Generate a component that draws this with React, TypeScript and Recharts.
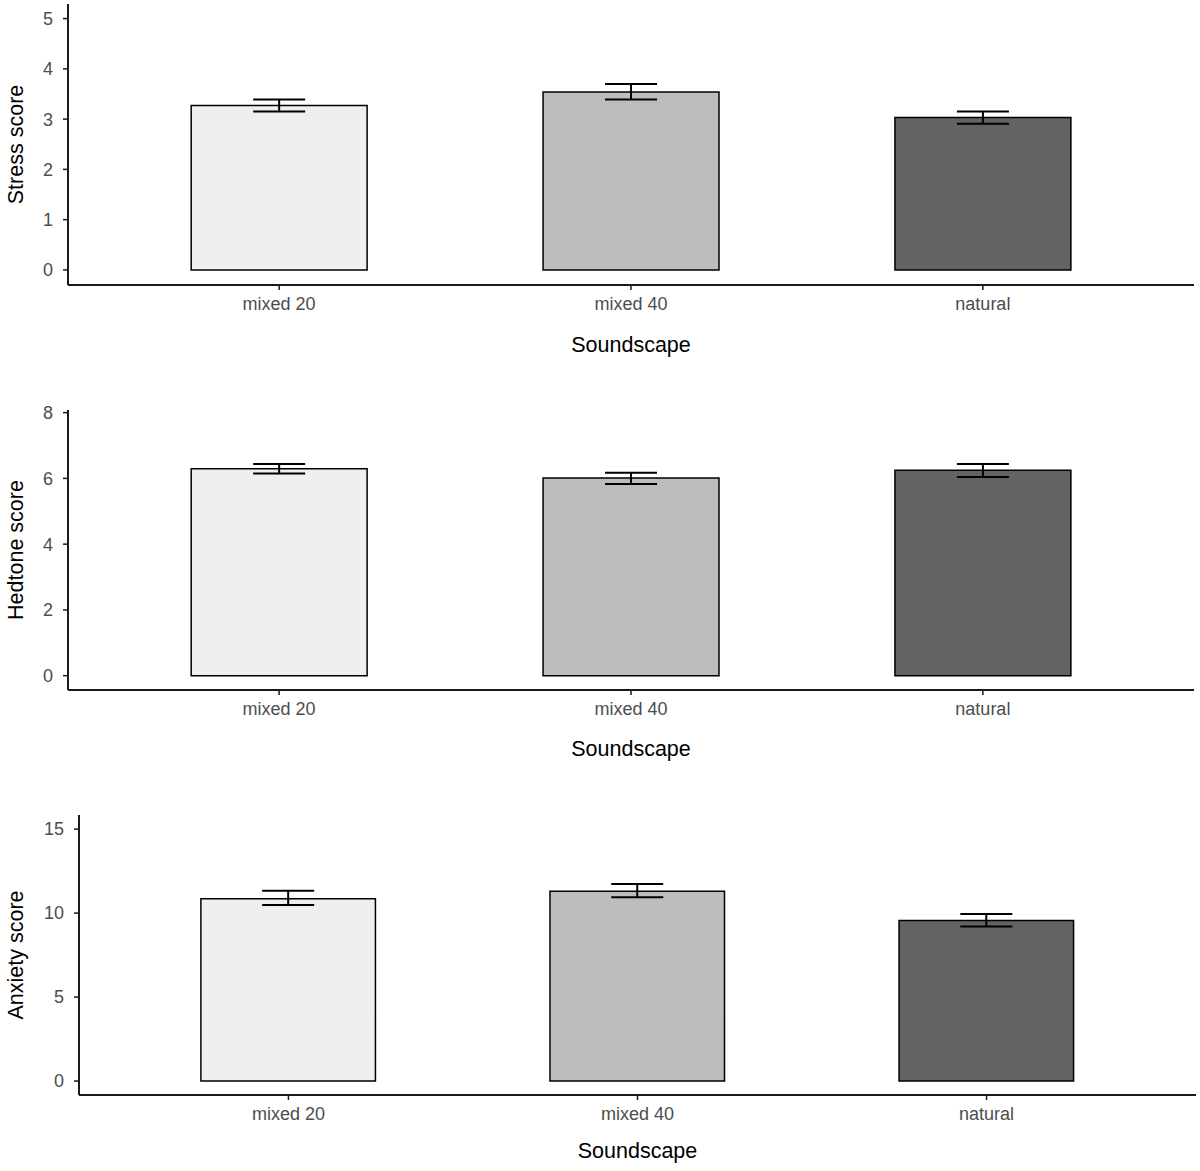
import React from "react";
import { BarChart, Bar, XAxis, YAxis, ErrorBar, Cell } from "recharts";

const soundscapes = ["mixed 20", "mixed 40", "natural"];
const barColors = ["#efefef", "#bdbdbd", "#636363"];

// mean and error bar ends, one value per soundscape
const stressMean = [3.27, 3.54, 3.03];
const stressLow = [3.15, 3.39, 2.91];
const stressHigh = [3.39, 3.7, 3.15];
const stressTicks = [0, 1, 2, 3, 4, 5];

const hedtoneMean = [6.29, 6.01, 6.25];
const hedtoneLow = [6.15, 5.83, 6.04];
const hedtoneHigh = [6.44, 6.17, 6.44];
const hedtoneTicks = [0, 2, 4, 6, 8];

const anxietyMean = [10.85, 11.3, 9.56];
const anxietyLow = [10.48, 10.95, 9.2];
const anxietyHigh = [11.33, 11.73, 9.94];
const anxietyTicks = [0, 5, 10, 15];

const buildRows = (mean: number[], low: number[], high: number[]) =>
  soundscapes.map((name, i) => ({
    name,
    mean: mean[i],
    err: [mean[i] - low[i], high[i] - mean[i]],
  }));

const panels = [
  {
    title: "Stress score",
    rows: buildRows(stressMean, stressLow, stressHigh),
    ticks: stressTicks,
    domain: [-0.3, 5.29],
    height: 406,
    top: 4,
    plotHeight: 281,
    yAxisWidth: 68,
    right: 6,
    titleOffset: 3,
  },
  {
    title: "Hedtone score",
    rows: buildRows(hedtoneMean, hedtoneLow, hedtoneHigh),
    ticks: hedtoneTicks,
    domain: [-0.435, 8.08],
    height: 406,
    top: 4,
    plotHeight: 280,
    yAxisWidth: 68,
    right: 6,
    titleOffset: 4,
  },
  {
    title: "Anxiety score",
    rows: buildRows(anxietyMean, anxietyLow, anxietyHigh),
    ticks: anxietyTicks,
    domain: [-0.83, 15.84],
    height: 359,
    top: 3,
    plotHeight: 280,
    yAxisWidth: 79,
    right: 4,
    titleOffset: 7,
  },
];

const X_AXIS_HEIGHT = 70;

const ScorePanel = ({ panel }: { panel: (typeof panels)[number] }) => {
  const plotWidth = 1200 - panel.yAxisWidth - panel.right;
  const unit = plotWidth / 3.2; // ggplot discrete expansion of 0.6 on each side
  const pad = unit * 0.1;
  return (
    <BarChart
      width={1200}
      height={panel.height}
      data={panel.rows}
      margin={{
        top: panel.top,
        right: panel.right,
        left: 0,
        bottom: panel.height - panel.top - panel.plotHeight - X_AXIS_HEIGHT,
      }}
    >
      <XAxis
        dataKey="name"
        interval={0}
        height={X_AXIS_HEIGHT}
        padding={{ left: pad, right: pad }}
        axisLine={{ stroke: "#1a1a1a", strokeWidth: 2 }}
        tickLine={{ stroke: "#1a1a1a", strokeWidth: 1.5 }}
        tickSize={5}
        tickMargin={7}
        tick={{ fill: "#4d4d4d", fontSize: 18 }}
        label={{
          value: "Soundscape",
          position: "insideBottom",
          offset: panel.titleOffset,
          fill: "#000",
          fontSize: 21.5,
        }}
      />
      <YAxis
        type="number"
        width={panel.yAxisWidth}
        domain={panel.domain}
        allowDataOverflow
        ticks={panel.ticks}
        interval={0}
        axisLine={{ stroke: "#1a1a1a", strokeWidth: 2 }}
        tickLine={{ stroke: "#1a1a1a", strokeWidth: 1.5 }}
        tickSize={5}
        tickMargin={10}
        tick={{ fill: "#4d4d4d", fontSize: 18 }}
        label={{
          value: panel.title,
          angle: -90,
          position: "insideLeft",
          offset: 15,
          fill: "#000",
          fontSize: 21.5,
          style: { textAnchor: "middle" },
        }}
      />
      <Bar
        dataKey="mean"
        barSize={unit / 2}
        stroke="#000"
        strokeWidth={1.5}
        isAnimationActive={false}
      >
        {panel.rows.map((r, i) => (
          <Cell key={r.name} fill={barColors[i]} />
        ))}
        <ErrorBar
          dataKey="err"
          width={26}
          stroke="#000"
          strokeWidth={2}
          direction="y"
          isAnimationActive={false}
        />
      </Bar>
    </BarChart>
  );
};

export default function App() {
  return (
    <div
      style={{
        width: 1200,
        height: 1171,
        background: "#fff",
        fontFamily: "'Liberation Sans', Arial, sans-serif",
      }}
    >
      <style>{"body{margin:0} svg.recharts-surface{overflow:visible}"}</style>
      {panels.map((p) => (
        <ScorePanel key={p.title} panel={p} />
      ))}
    </div>
  );
}
